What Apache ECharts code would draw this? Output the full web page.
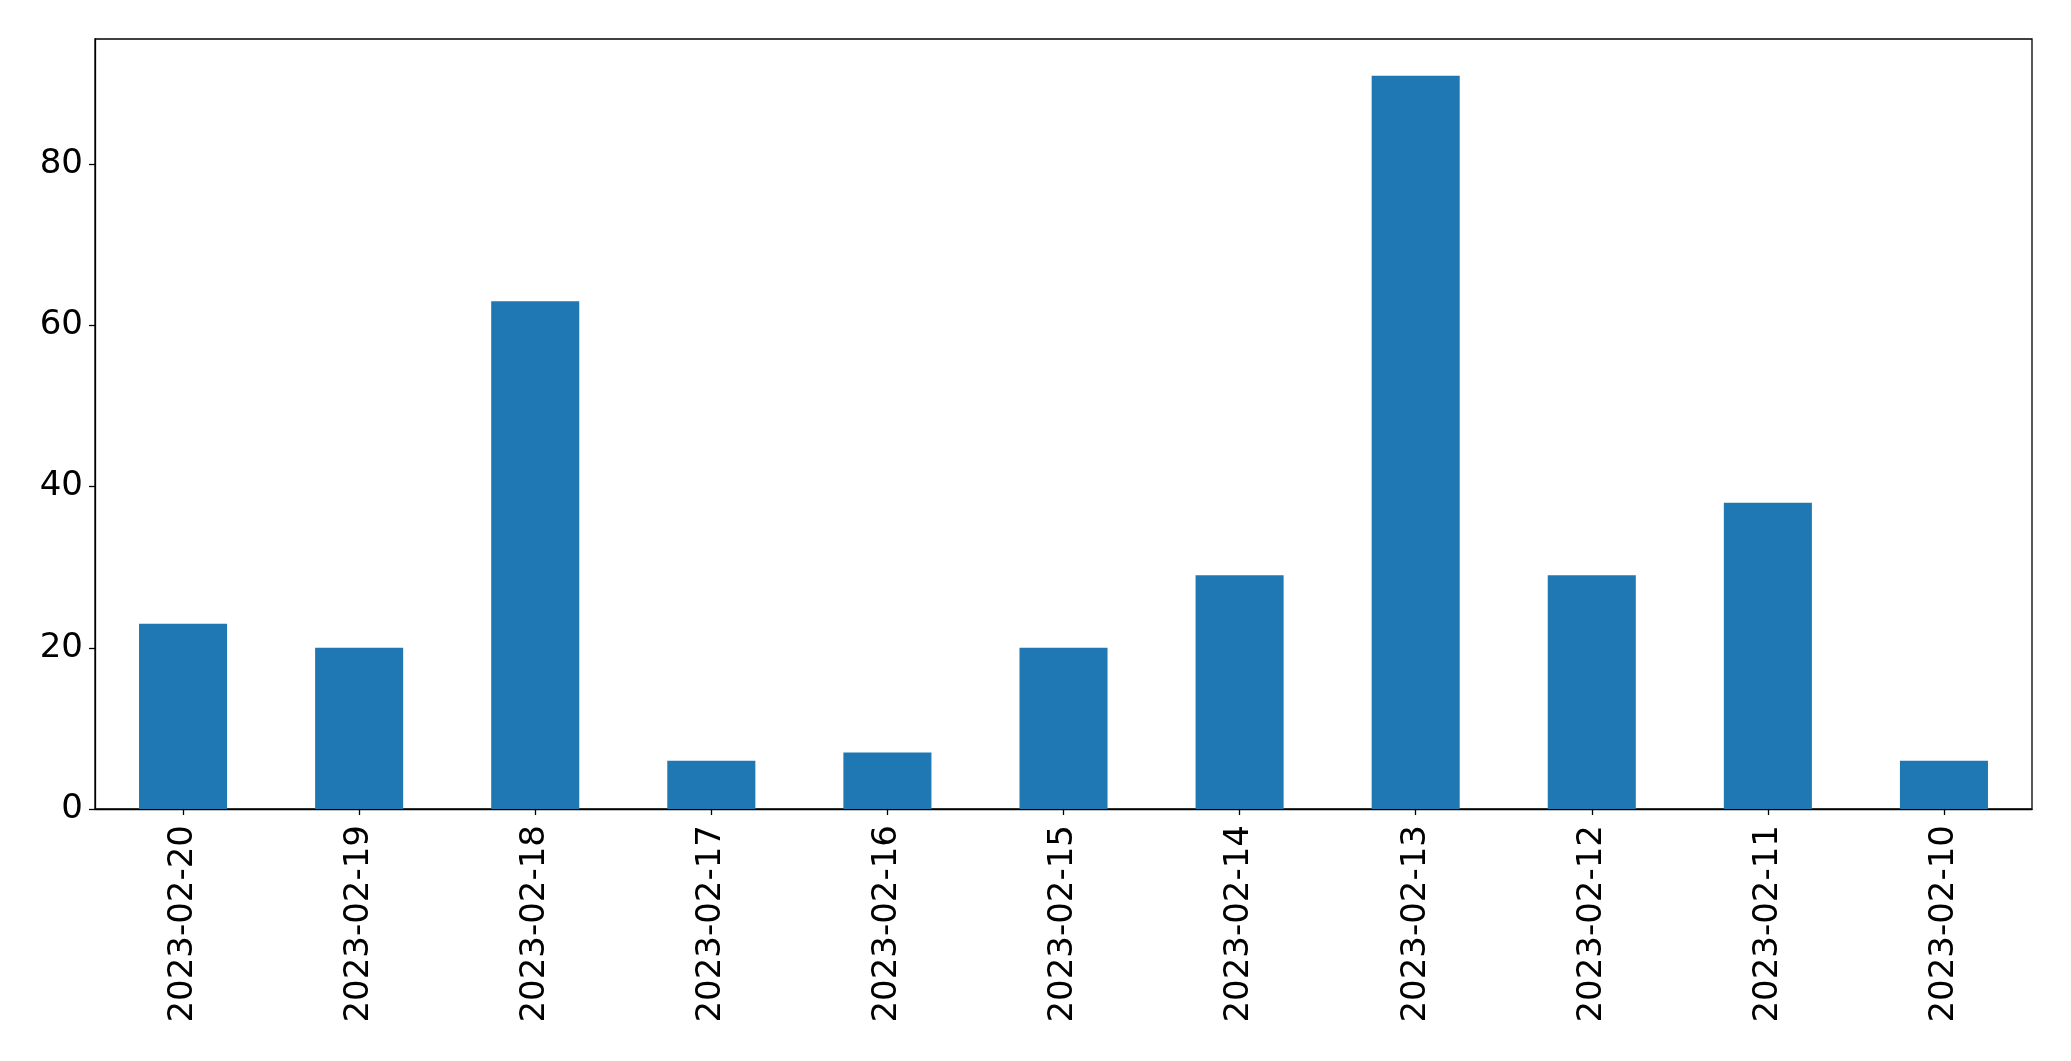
<!DOCTYPE html>
<html>
<head>
<meta charset="utf-8">
<script src="https://cdn.jsdelivr.net/npm/echarts@6/dist/echarts.min.js"></script>
<style>
html,body{margin:0;padding:0;background:#fff;}
#chart{width:2071px;height:1061px;}
</style>
</head>
<body>
<div id="chart"></div>
<script>
const categories = ["2023-02-20","2023-02-19","2023-02-18","2023-02-17","2023-02-16","2023-02-15","2023-02-14","2023-02-13","2023-02-12","2023-02-11","2023-02-10"];
const values = [23, 20, 63, 6, 7, 20, 29, 91, 29, 38, 6];
const yTicks = [0, 20, 40, 60, 80];
const yMax = 95.55;

const chart = echarts.init(document.getElementById('chart'), null, {renderer: 'canvas'});
const font = 'DejaVu Sans';
chart.setOption({
  animation: false,
  backgroundColor: '#ffffff',
  grid: {left: 95, right: 39, top: 39, bottom: 252, show: true, borderColor: '#000', borderWidth: 1.3, backgroundColor: 'transparent'},
  xAxis: {
    type: 'category',
    data: categories,
    boundaryGap: true,
    axisLine: {show: true, lineStyle: {color: '#000', width: 1.3}},
    axisTick: {show: true, alignWithLabel: true, length: 6, lineStyle: {color: '#000', width: 1.3}},
    axisLabel: {rotate: 90, interval: 0, margin: 16, color: '#000', fontSize: 34, fontFamily: font},
    splitLine: {show: false}
  },
  yAxis: {
    type: 'value',
    min: 0,
    max: yMax,
    interval: 20,
    axisLine: {show: true, lineStyle: {color: '#000', width: 1.3}},
    axisTick: {show: true, length: 6, customValues: yTicks, lineStyle: {color: '#000', width: 1.3}},
    axisLabel: {color: '#000', fontSize: 34, fontFamily: font, margin: 12, customValues: yTicks},
    splitLine: {show: false}
  },
  series: [{
    type: 'bar',
    data: values,
    barWidth: '50%',
    itemStyle: {color: '#1f77b4'}
  }]
});
</script>
</body>
</html>
